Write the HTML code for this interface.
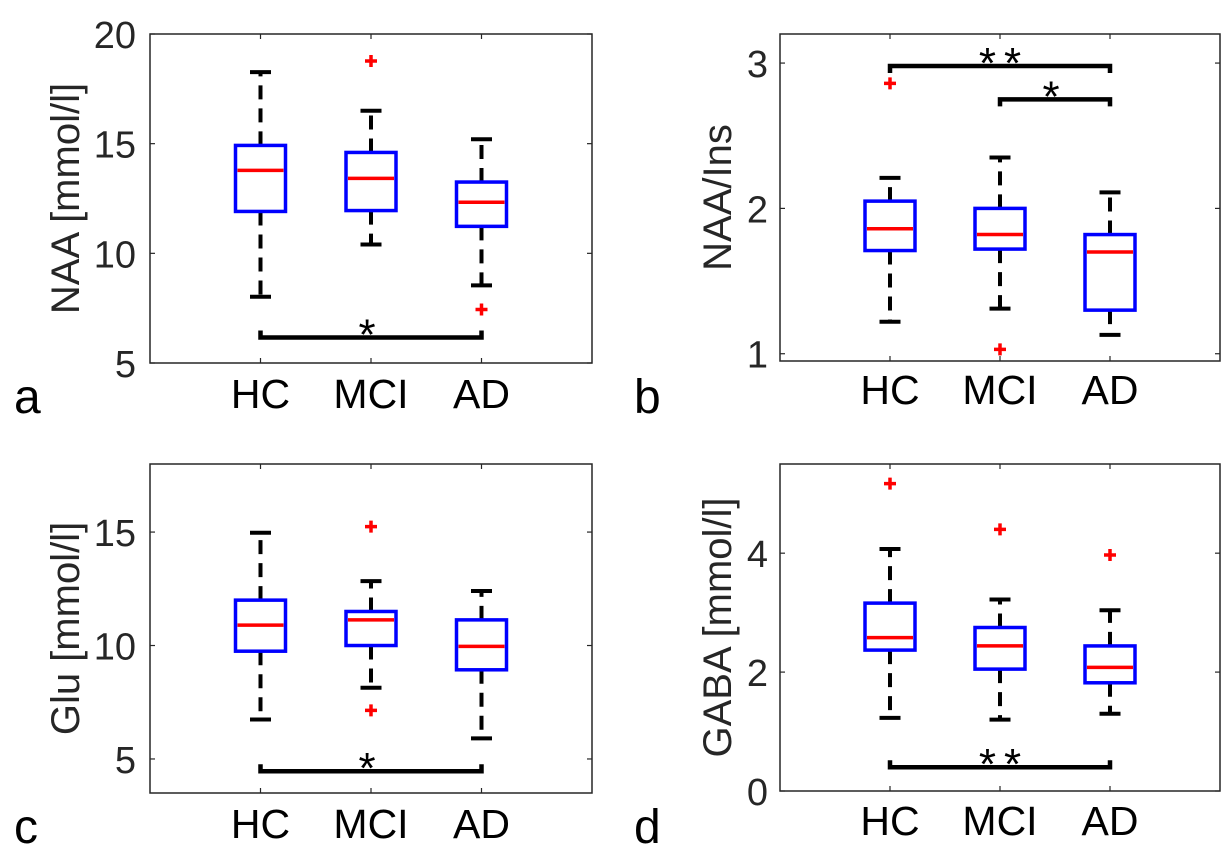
<!DOCTYPE html>
<html><head><meta charset="utf-8"><style>
html,body{margin:0;padding:0;background:#fff;}
svg{display:block;font-family:"Liberation Sans",sans-serif;}
</style></head><body>
<svg id="fig" width="1232" height="864" viewBox="0 0 1232 864" xmlns="http://www.w3.org/2000/svg"></svg>
<script>
const categories = ["HC","MCI","AD"];
// Panel a: NAA [mmol/l]
const aHigh = [18.26, 16.5, 15.2];
const aQ3 = [14.92, 14.6, 13.25];
const aMed = [13.78, 13.42, 12.33];
const aQ1 = [11.91, 11.95, 11.23];
const aLow = [8.02, 10.4, 8.54];
const aOut = [[], [18.77], [7.44]];
const aTicks = [5, 10, 15, 20];
const aSig = [[0, 2, 6.16, "*"]];
// Panel b: NAA/Ins
const bHigh = [2.21, 2.35, 2.11];
const bQ3 = [2.05, 2.0, 1.82];
const bMed = [1.86, 1.82, 1.70];
const bQ1 = [1.71, 1.72, 1.30];
const bLow = [1.22, 1.31, 1.13];
const bOut = [[2.86], [1.03], []];
const bTicks = [1, 2, 3];
const bSig = [[0, 2, 2.98, "**"], [1, 2, 2.75, "*"]];
// Panel c: Glu [mmol/l]
const cHigh = [14.97, 12.84, 12.4];
const cQ3 = [12.0, 11.5, 11.13];
const cMed = [10.9, 11.13, 9.96];
const cQ1 = [9.75, 10.0, 8.93];
const cLow = [6.74, 8.14, 5.91];
const cOut = [[], [15.24, 7.14], []];
const cTicks = [5, 10, 15];
const cSig = [[0, 2, 4.46, "*"]];
// Panel d: GABA [mmol/l]
const dHigh = [4.07, 3.22, 3.04];
const dQ3 = [3.16, 2.75, 2.44];
const dMed = [2.58, 2.44, 2.08];
const dQ1 = [2.37, 2.05, 1.82];
const dLow = [1.23, 1.2, 1.30];
const dOut = [[5.17], [4.40], [3.97]];
const dTicks = [0, 2, 4];
const dSig = [[0, 2, 0.40, "**"]];

const NS = "http://www.w3.org/2000/svg";
const svg = document.getElementById("fig");
function mk(tag, attrs, parent, text){
  const e = document.createElementNS(NS, tag);
  for (const k in attrs) e.setAttribute(k, attrs[k]);
  if (text !== undefined) e.textContent = text;
  (parent || svg).appendChild(e);
  return e;
}
function panel(p){
  const g = mk("g", {});
  
  
  const L = p.box[0], R = p.box[1], T = p.box[2], B = p.box[3];
  const X = i => L + (R - L) * (i + 1) / 4;
  const Y = v => B - (v - p.ylim[0]) / (p.ylim[1] - p.ylim[0]) * (B - T);
  const fr = mk("rect", {x:L, y:T, width:R-L, height:B-T, fill:"none", stroke:"#262626", "stroke-width":1.5}, g);
  
  
  p.ticks.forEach(t => {
    const y = Y(t);
    mk("line", {x1:L, x2:L+5, y1:y, y2:y, stroke:"#262626", "stroke-width":1.2}, g);
    mk("line", {x1:R, x2:R-5, y1:y, y2:y, stroke:"#262626", "stroke-width":1.2}, g);
    const tl = mk("text", {x:p.ytx, y:y+14, "text-anchor":"end", "font-size":38, fill:"#262626"}, g, String(t));
    
    
  });
  categories.forEach((c, i) => {
    const x = X(i);
    mk("line", {x1:x, x2:x, y1:B, y2:B-5, stroke:"#262626", "stroke-width":1.2}, g);
    mk("line", {x1:x, x2:x, y1:T, y2:T+5, stroke:"#262626", "stroke-width":1.2}, g);
    const xl = mk("text", {x:x, y:p.xty, "text-anchor":"middle", "font-size":41, fill:"#000"}, g, c);
    
    
  });
  categories.forEach((c, i) => {
    const x = X(i), hw = 25, cw = 10.5;
    const bg = mk("g", {}, g);
    
    
    mk("line", {x1:x, x2:x, y1:Y(p.q3[i]), y2:Y(p.high[i]), stroke:"#000", "stroke-width":4, "stroke-dasharray":"14 9"}, bg);
    mk("line", {x1:x, x2:x, y1:Y(p.q1[i]), y2:Y(p.low[i]), stroke:"#000", "stroke-width":4, "stroke-dasharray":"14 9"}, bg);
    mk("line", {x1:x-cw, x2:x+cw, y1:Y(p.high[i]), y2:Y(p.high[i]), stroke:"#000", "stroke-width":4}, bg);
    mk("line", {x1:x-cw, x2:x+cw, y1:Y(p.low[i]), y2:Y(p.low[i]), stroke:"#000", "stroke-width":4}, bg);
    mk("rect", {x:x-hw, y:Y(p.q3[i]), width:2*hw, height:Y(p.q1[i])-Y(p.q3[i]), fill:"none", stroke:"#0000ff", "stroke-width":3.5}, bg);
    mk("line", {x1:x-hw+2, x2:x+hw-2, y1:Y(p.med[i]), y2:Y(p.med[i]), stroke:"#ff0000", "stroke-width":3.5}, bg);
    p.out[i].forEach(v => {
      const y = Y(v);
      const o = mk("path", {d:`M${x-6},${y}H${x+6}M${x},${y-6}V${y+6}`, stroke:"#ff0000", "stroke-width":3.5, fill:"none"}, bg);
      
      
    });
  });
  p.sig.forEach(s => {
    const x1 = X(s[0]), x2 = X(s[1]), y = Y(s[2]);
    const sg = mk("g", {}, g);
    
    
    const dir = p.sigDown ? 1 : -1;
    mk("path", {d:`M${x1},${y+dir*7}V${y}H${x2}V${y+dir*7}`, stroke:"#000", "stroke-width":4.5, fill:"none"}, sg);
    mk("text", {x:(x1+x2)/2 + (s[3].length>1?4:0), y:y+12, "text-anchor":"middle", "font-size":44, fill:"#000", "letter-spacing":"8"}, sg, s[3]);
  });
  const yl = mk("text", {x:0, y:0, transform:`translate(${p.ylx},${(T+B)/2}) rotate(-90)`, "text-anchor":"middle", "font-size":40, fill:"#262626"}, g, p.ylabel);
  
  
  const pl = mk("text", {x:p.lx, y:p.ly, "font-size":48, fill:"#000"}, g, p.letter);
  
  
}
panel({letter:"a", box:[150,592,34,363], ylim:[5,20], ticks:aTicks, high:aHigh, q3:aQ3, med:aMed, q1:aQ1, low:aLow, out:aOut, sig:aSig, sigDown:false, ylabel:"NAA [mmol/l]", ylx:79, ytx:136, xty:408, lx:14, ly:413});
panel({letter:"b", box:[780,1220,34,361], ylim:[0.95,3.2], ticks:bTicks, high:bHigh, q3:bQ3, med:bMed, q1:bQ1, low:bLow, out:bOut, sig:bSig, sigDown:true, ylabel:"NAA/Ins", ylx:731, ytx:768, xty:404, lx:634, ly:413});
panel({letter:"c", box:[150,592,464,793], ylim:[3.5,18], ticks:cTicks, high:cHigh, q3:cQ3, med:cMed, q1:cQ1, low:cLow, out:cOut, sig:cSig, sigDown:false, ylabel:"Glu [mmol/l]", ylx:79, ytx:136, xty:838, lx:14, ly:843});
panel({letter:"d", box:[780,1220,464,791], ylim:[0,5.5], ticks:dTicks, high:dHigh, q3:dQ3, med:dMed, q1:dQ1, low:dLow, out:dOut, sig:dSig, sigDown:false, ylabel:"GABA [mmol/l]", ylx:731, ytx:768, xty:835, lx:634, ly:843});
</script>
</body></html>
